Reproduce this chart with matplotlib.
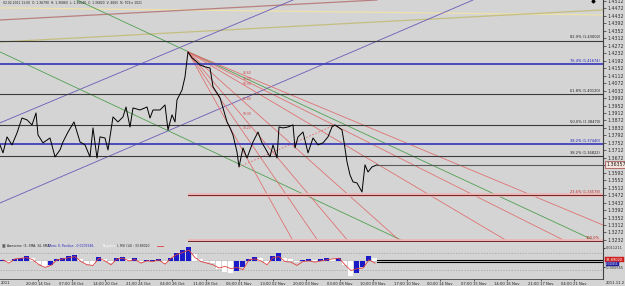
import matplotlib
matplotlib.use("Agg")
import matplotlib.pyplot as plt
import numpy as np

# ---------------- data ----------------
price_x = [0, 3, 7, 12, 17, 22, 27, 32, 36, 38, 43, 50, 55, 60, 63, 68, 74, 80, 85, 90, 93, 97, 100, 105, 108,
           113, 118, 123, 126, 130, 133, 140, 147, 150, 153, 160, 165, 168, 172, 175, 177, 182, 185, 187, 188,
           192, 197, 200, 205, 210, 213, 217, 220, 223, 227, 230, 233, 237, 239, 243, 247, 250, 253, 258, 262,
           265, 270, 273, 277, 279, 283, 288, 293, 295, 298, 303, 308, 313, 318, 323, 328, 332, 335, 338, 342,
           344, 347, 350, 353, 357, 362, 365, 368, 372, 377]
price_y = [1.3741, 1.3698, 1.3784, 1.3741, 1.3805, 1.3885, 1.3875, 1.3848, 1.3912, 1.3794, 1.3752, 1.3778,
           1.3677, 1.3714, 1.3757, 1.3810, 1.3864, 1.3757, 1.3741, 1.3677, 1.3832, 1.3671, 1.3784, 1.3778,
           1.3714, 1.3891, 1.3864, 1.3891, 1.3944, 1.3837, 1.3939, 1.3928, 1.3944, 1.3885, 1.3928, 1.3928,
           1.3955, 1.3821, 1.3902, 1.3864, 1.3982, 1.4035, 1.4105, 1.4196, 1.4239, 1.4207, 1.4185, 1.4169,
           1.4159, 1.4153, 1.4052, 1.4019, 1.3993, 1.3939, 1.3864, 1.3832, 1.3794, 1.3703, 1.3623, 1.3725,
           1.3671, 1.3714, 1.3757, 1.3810, 1.3752, 1.3725, 1.3677, 1.3741, 1.3671, 1.3837, 1.3832, 1.3837,
           1.3848, 1.3725, 1.3784, 1.3810, 1.3698, 1.3778, 1.3741, 1.3752, 1.3784, 1.3837, 1.3848, 1.3837,
           1.3821, 1.3757, 1.3650, 1.3580, 1.3543, 1.3537, 1.3489, 1.3634, 1.3596, 1.3623, 1.3634]

last_price = 1.36357
last_x = 377

# Fibonacci horizontal levels
fib_full_prices = [1.4300, 1.4174, 1.4012, 1.3847, 1.3744, 1.3682]
fib_full_labels = ["82.9% (1.43002)", "76.4% (1.41674)", "61.8% (1.40120)", "50.0% (1.38470)",
                   "38.2% (1.37440)", "38.2% (1.36822)"]
fib_full_blue = [False, True, False, False, True, False]
fib_red_prices = [1.3474, 1.3227]
fib_red_labels = ["23.6% (1.34578)", "100.0%"]
fib_red_start = 188

# trend lines: (x0, y0, x1, y1)
yellow_line = (0, 1.4475, 603, 1.4437)
olive_line = (0, 1.4292, 603, 1.4464)
rose_line = (0, 1.4410, 377, 1.4517)
purple_lines = [(0, 1.3859, 293, 1.4517), (0, 1.3430, 473, 1.4517)]
green_lines = [(0, 1.4239, 403, 1.3227), (77, 1.4517, 595, 1.3227)]
fan_origin = (188, 1.4239)
fan_ends = [(603, 1.3312), (565, 1.3227), (507, 1.3227), (400, 1.3227), (348, 1.3227), (318, 1.3227),
            (293, 1.3227)]
fib_dash = (239, 1.3623, 335, 1.3848)
fan_label_y = [1.4125, 1.4092, 1.4066, 1.3986, 1.3905, 1.3832]
fan_label_txt = ["23.60", "38.20", "50.00", "61.80", "50.00", "38.20"]

# axis ticks
ytick_vals = [round(1.3232 + 0.004 * i, 4) for i in range(33)]
xtick_pos = [38, 71.5, 105, 138.5, 172, 205.5, 239, 272.5, 306, 339.5, 373, 406.5, 440, 473.5, 507, 540.5, 574]
xtick_lab = ["20:00 14 Oct", "07:00 18 Oct", "14:00 20 Oct", "21:00 24 Oct", "04:00 26 Oct", "11:00 28 Oct",
             "06:00 01 Nov", "13:00 02 Nov", "20:00 03 Nov", "03:00 08 Nov", "10:00 09 Nov", "17:00 10 Nov",
             "00:00 14 Nov", "07:00 15 Nov", "14:00 16 Nov", "21:00 17 Nov", "04:00 21 Nov"]

# indicator (Awesome oscillator, x1e-3) and RSI
ind_x = list(range(0, 378, 6))
ao_vals = [0.9, -1.7, 1.7, 2.6, 4.3, 2.6, -2.6, -5.2, -3.4, 1.7, 2.6, 4.3, 5.2, 1.7, -2.6, -3.4, 3.4, 1.7,
           -1.7, 2.6, 3.4, 1.7, 2.6, -0.9, 0.9, 0.9, 1.7, -1.7, 2.6, 6.9, 9.5, 12.0, 6.0, 1.7, -0.9, -1.7,
           -6.9, -9.5, -10.3, -8.6, -5.2, 1.7, 3.4, 2.6, -2.6, 4.3, 6.9, 2.6, 1.7, -0.9, 0.9, 1.7, 0.9, 1.7,
           2.6, 1.7, 2.6, -3.4, -12.9, -10.3, -5.2, 4.3, 2.6]
rsi_vals = [55, 45, 58, 60, 62, 55, 40, 32, 38, 55, 58, 62, 65, 50, 40, 38, 60, 52, 40, 58, 60, 52, 56, 45,
            52, 50, 55, 42, 60, 72, 78, 85, 62, 50, 45, 40, 30, 35, 28, 32, 25, 55, 58, 52, 40, 62, 65, 50,
            48, 38, 50, 52, 48, 52, 55, 58, 60, 40, 22, 28, 30, 55, 45]

# ---------------- style ----------------
BG = "#d4d4d4"
FS = 3.4
plt.rcParams["font.family"] = ["DejaVu Sans"]

fig = plt.figure(figsize=(6.25, 2.86), dpi=100, facecolor=BG)
W, H = 625.0, 286.0
ax = fig.add_axes([0, (H - 242) / H, 603 / W, 242 / H], facecolor=BG)
axi = fig.add_axes([0, (H - 279) / H, 603 / W, 36 / H], facecolor=BG)

YMIN, YMAX = 1.3221, 1.4517
ax.set_xlim(0, 603)
ax.set_ylim(YMIN, YMAX)

# horizontal fib lines
for p, lab, blue in zip(fib_full_prices, fib_full_labels, fib_full_blue):
    if blue:
        ax.axhline(p, color="#5656c4", lw=1.4, zorder=2)
        ax.axhline(p, color="#2a2aa0", lw=0.35, zorder=2)
    else:
        ax.axhline(p, color="#3a3a3a", lw=0.8, zorder=2)
    ax.text(600, p + 0.0006, lab, fontsize=2.6, ha="right", va="bottom",
            color="#2020c0" if blue else "#202020", zorder=6)
for p, lab in zip(fib_red_prices, fib_red_labels):
    ax.plot([fib_red_start, 603], [p, p], color="#eeb4b4", lw=2.6, zorder=2, solid_capstyle="butt")
    ax.plot([fib_red_start, 603], [p, p], color="#6a2828", lw=0.7, zorder=2)
    ax.text(600, p + 0.0006, lab, fontsize=2.6, ha="right", va="bottom", color="#c02020", zorder=6)

# trend lines
for (x0, y0, x1, y1), c in [(yellow_line, "#efe2aa"), (olive_line, "#c4be80"), (rose_line, "#b88080")]:
    ax.plot([x0, x1], [y0, y1], color=c, lw=0.9, zorder=1)
for (x0, y0, x1, y1) in purple_lines:
    ax.plot([x0, x1], [y0, y1], color="#6a5ab8", lw=0.6, zorder=1)
for (x0, y0, x1, y1) in green_lines:
    ax.plot([x0, x1], [y0, y1], color="#50a050", lw=0.6, zorder=1)
for (x1, y1) in fan_ends:
    ax.plot([fan_origin[0], x1], [fan_origin[1], y1], color="#e06a6a", lw=0.55, zorder=1)
ax.plot([fib_dash[0], fib_dash[2]], [fib_dash[1], fib_dash[3]], color="#e06a6a", lw=0.6,
        ls=(0, (2, 2)), zorder=1)
for yv, t in zip(fan_label_y, fan_label_txt):
    ax.text(243, yv, t, fontsize=2.2, color="#d04040", ha="left", va="center", zorder=6)

# current price line
ax.plot([last_x, 603], [last_price, last_price], color="#5a5a5a", lw=0.8, zorder=2)

# price
ax.plot(price_x, price_y, color="black", lw=0.7, zorder=4)

# top-left info
ax.text(3, 1.4503, "02.02.2011 11:00  O: 1.36790  H: 1.36860  L: 1.36640  C: 1.36820  V: 4065  N: 709.e 1021",
        fontsize=2.2, color="#202020", ha="left", va="center")
ax.plot([593], [1.4512], marker="D", ms=1.5, color="black", clip_on=False)

# right axis
ax.yaxis.tick_right()
ax.set_yticks(ytick_vals)
ax.set_yticklabels(["" if abs(v - last_price) < 0.002 else f"{v:.4f}" for v in ytick_vals],
                   fontsize=FS, color="#303030")
ax.tick_params(axis="y", length=2, width=0.5, pad=1, colors="#303030")
ax.set_xticks([])
for s in ["top", "left", "bottom"]:
    ax.spines[s].set_visible(False)
ax.spines["right"].set_color("#404040")
ax.spines["right"].set_linewidth(0.8)
ax.text(1.005, (last_price - YMIN) / (YMAX - YMIN), f"{last_price:.5f}", transform=ax.transAxes,
        fontsize=FS, ha="left", va="center", color="#202020",
        bbox=dict(boxstyle="square,pad=0.15", fc="#f4e4dc", ec="#a04040", lw=0.5), zorder=7, clip_on=False)

# ---------------- indicator ----------------
axi.set_xlim(0, 603)
axi.set_ylim(-15.5, 15.5)
ao = np.array(ao_vals)
cols = ["#1a1ac8" if (i == 0 or ao[i] >= ao[i - 1]) else "white" for i in range(len(ao))]
axi.bar(ind_x, ao, width=5, color=cols, align="edge", zorder=2, lw=0)
axi.axhline(0, color="#a0a0a0", lw=0.3, zorder=1)
axi.axhline(6.8, color="#a0a0a0", lw=0.5, ls=(0, (2, 2)), zorder=1)
axi.axhline(-7.9, color="#a0a0a0", lw=0.5, ls=(0, (2, 2)), zorder=1)
axi.plot([last_x, 603], [0.6, 0.6], color="black", lw=0.8, zorder=3)
axi.plot([last_x, 603], [-1.2, -1.2], color="black", lw=0.8, zorder=3)

axr = axi.twinx()
axr.set_ylim(-3.8, 106.9)
axr.plot(np.array(ind_x) + 3, rsi_vals, color="#e04040", lw=0.6, zorder=3)
axr.set_yticks([])
for s in axr.spines.values():
    s.set_visible(False)

axi.yaxis.tick_right()
axi.set_yticks([11.211, -5.555])
axi.set_yticklabels(["0.011211", "-0.005555"], fontsize=2.5, color="#303030")
axi.tick_params(axis="y", length=1.5, width=0.5, pad=0.5)
axi.set_xticks(xtick_pos)
axi.set_xticklabels(xtick_lab, fontsize=2.7, color="#202020")
axi.tick_params(axis="x", length=1.5, width=0.4, pad=0.5)
for s in ["top", "left"]:
    axi.spines[s].set_visible(False)
axi.spines["right"].set_color("#404040")
axi.spines["bottom"].set_color("#404040")
axi.spines["bottom"].set_linewidth(0.6)
axi.text(1, -17.5, "2011", fontsize=2.7, ha="left", va="top", color="#202020", clip_on=False)
axi.text(606, -17.5, "2011.11.2", fontsize=2.7, ha="left", va="top", color="#202020", clip_on=False)

# header of the indicator panel
hy = 12.5
axi.text(2, hy, "\u25a3", fontsize=2.8, ha="left", va="center", color="#404040")
axi.text(7, hy, "Awesome: (5, SMA, 34, SMA)", fontsize=2.2, ha="left", va="center", color="#202020")
axi.text(48, hy, "(Zero: 0, Positive: -0.0005546,", fontsize=2.2, ha="left", va="center", color="#2020c0")
axi.text(103, hy, "Negative", fontsize=2.2, ha="left", va="center", color="white")
axi.text(117, hy, "), RSI (14) : 33.89020", fontsize=2.2, ha="left", va="center", color="#202020")
axi.plot([157, 163], [hy, hy], color="#e04040", lw=0.6)

# value boxes at right
axi.text(1.005, 0.53, "33.89020", transform=axi.transAxes, fontsize=2.6, ha="left", va="center", color="white",
         bbox=dict(boxstyle="square,pad=0.15", fc="#d02020", ec="#d02020", lw=0.3), clip_on=False)
axi.text(1.005, 0.41, "-0.000555", transform=axi.transAxes, fontsize=1.8, ha="left", va="center", color="white",
         bbox=dict(boxstyle="square,pad=0.1", fc="#2020a0", ec="#2020a0", lw=0.3), clip_on=False)

fig.savefig("out.png", dpi=100, facecolor=BG)
